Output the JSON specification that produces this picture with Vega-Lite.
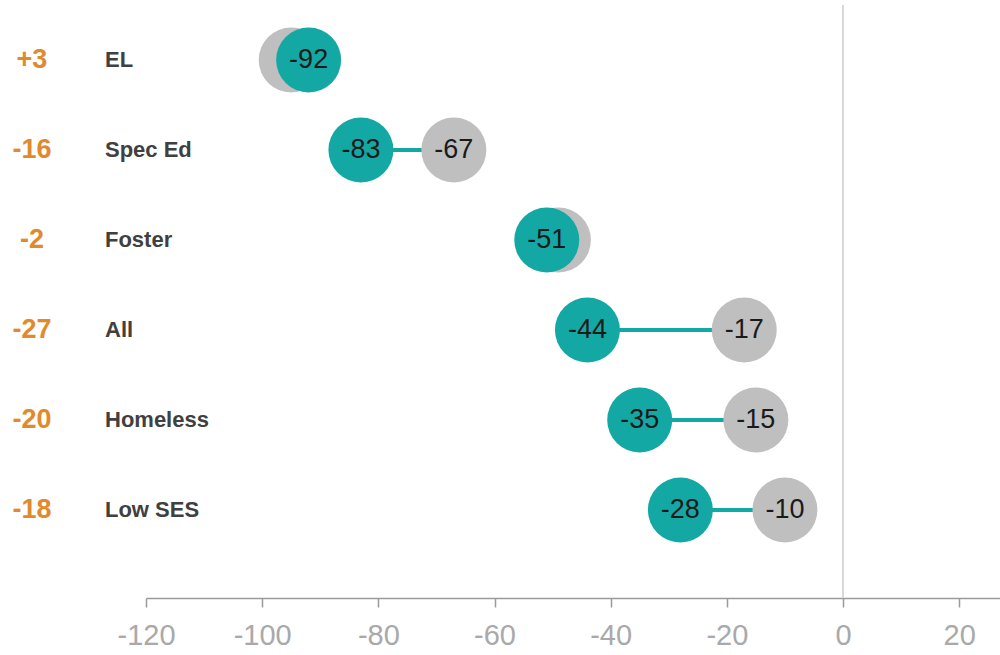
{
  "$schema": "https://vega.github.io/schema/vega-lite/v6.json",
  "autosize": {"type": "none"},
  "width": 854,
  "height": 593,
  "padding": {"left": 146, "top": 5, "right": 0, "bottom": 57},
  "background": "white",
  "config": {"view": {"stroke": null}},
  "data": {
    "values": [
      {"group": "EL", "current": -92, "prior": -95, "change": 3},
      {"group": "Spec Ed", "current": -83, "prior": -67, "change": -16},
      {"group": "Foster", "current": -51, "prior": -49, "change": -2},
      {"group": "All", "current": -44, "prior": -17, "change": -27},
      {"group": "Homeless", "current": -35, "prior": -15, "change": -20},
      {"group": "Low SES", "current": -28, "prior": -10, "change": -18}
    ]
  },
  "transform": [
    {"calculate": "(datum.change > 0 ? '+' : '') + toString(datum.change)", "as": "changeLabel"},
    {"calculate": "toString(datum.current)", "as": "currentLabel"},
    {"calculate": "toString(datum.prior)", "as": "priorLabel"}
  ],
  "encoding": {
    "y": {
      "field": "group",
      "type": "ordinal",
      "sort": ["EL", "Spec Ed", "Foster", "All", "Homeless", "Low SES"],
      "scale": {"type": "point", "padding": 0.7944, "align": 0.3846},
      "axis": null
    }
  },
  "layer": [
    {
      "mark": {"type": "rule", "color": "#d9d9d9", "strokeWidth": 2},
      "encoding": {
        "x": {"datum": 0, "type": "quantitative"},
        "y": null
      }
    },
    {
      "mark": {"type": "rule", "color": "#14a8a4", "strokeWidth": 4},
      "encoding": {
        "x": {
          "field": "current",
          "type": "quantitative",
          "scale": {"domain": [-120, 27.03], "nice": false, "zero": false},
          "axis": {
            "values": [-120, -100, -80, -60, -40, -20, 0, 20],
            "labelExpr": "toString(datum.value)",
            "title": null,
            "grid": false,
            "domainColor": "#9a9a9a",
            "domainWidth": 1.5,
            "tickColor": "#9a9a9a",
            "tickWidth": 1.5,
            "tickSize": 9,
            "labelFont": "Liberation Sans",
            "labelFontSize": 29,
            "labelColor": "#a9a9a9",
            "labelPadding": 14,
            "labelFlush": false,
            "labelOverlap": false
          }
        },
        "x2": {"field": "prior"}
      }
    },
    {
      "mark": {"type": "circle", "color": "#bfbfbf", "opacity": 1, "size": 4225},
      "encoding": {"x": {"field": "prior", "type": "quantitative"}}
    },
    {
      "transform": [{"filter": "abs(datum.current - datum.prior) > 5"}],
      "mark": {"type": "text", "font": "Liberation Sans", "fontSize": 27, "color": "#1a1a1a", "align": "center", "baseline": "middle"},
      "encoding": {
        "x": {"field": "prior", "type": "quantitative"},
        "text": {"field": "priorLabel", "type": "nominal"}
      }
    },
    {
      "mark": {"type": "circle", "color": "#14a8a4", "opacity": 1, "size": 4225},
      "encoding": {"x": {"field": "current", "type": "quantitative"}}
    },
    {
      "mark": {"type": "text", "font": "Liberation Sans", "fontSize": 27, "color": "#1a1a1a", "align": "center", "baseline": "middle"},
      "encoding": {
        "x": {"field": "current", "type": "quantitative"},
        "text": {"field": "currentLabel", "type": "nominal"}
      }
    },
    {
      "mark": {"type": "text", "font": "Liberation Sans", "fontSize": 22, "fontWeight": "bold", "color": "#404040", "align": "left", "baseline": "middle"},
      "encoding": {
        "x": {"datum": -127.06, "type": "quantitative"},
        "text": {"field": "group", "type": "nominal"}
      }
    },
    {
      "mark": {"type": "text", "font": "Liberation Sans", "fontSize": 27, "fontWeight": "bold", "color": "#e08a2b", "align": "center", "baseline": "middle"},
      "encoding": {
        "x": {"datum": -139.63, "type": "quantitative"},
        "text": {"field": "changeLabel", "type": "nominal"}
      }
    }
  ]
}
